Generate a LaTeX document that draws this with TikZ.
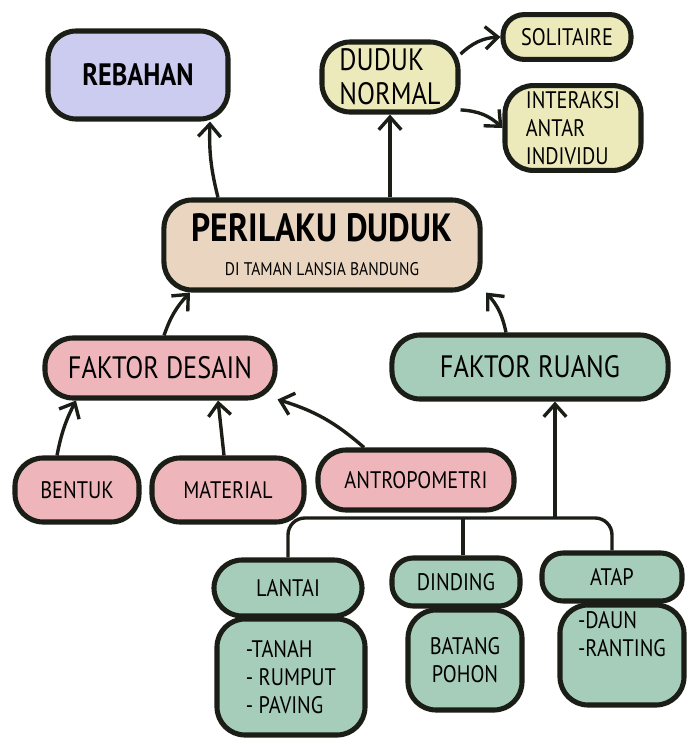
\documentclass[tikz,border=0pt]{standalone}
\usepackage{fontspec}
\setmainfont[FakeStretch=0.85]{PT Sans}
\usepackage{tikz}
\usetikzlibrary{arrows.meta}
\definecolor{skink}{RGB}{26, 30, 22}
\definecolor{skpurple}{RGB}{204, 204, 240}
\definecolor{skyellow}{RGB}{236, 234, 186}
\definecolor{sktan}{RGB}{234, 214, 192}
\definecolor{skpink}{RGB}{238, 182, 186}
\definecolor{skgreen}{RGB}{166, 204, 186}

\begin{document}
\begin{tikzpicture}[x=0.025cm, y=-0.025cm,
        box/.style={rectangle, rounded corners=20pt, draw=skink,
                    line width=3.6pt, align=center, inner sep=4pt},
        flat/.style={rounded corners=15pt},
        big/.style={font=\fontsize{28}{30}\selectfont\bfseries},
        mid/.style={font=\fontsize{22}{24}\selectfont},
        sml/.style={font=\fontsize{17}{20}\selectfont},
        arr/.style={-{Straight Barb[length=9pt,width=16pt,line width=2.4pt]},
                    line width=2.4pt, draw=skink},
      ]
        \useasboundingbox (0,0) rectangle (686,738);

        % top row
        \node[box, mid, fill=skpurple, minimum width=4.5cm, minimum height=2.2cm]
              (rebahan) at (138,75) {\bfseries REBAHAN};
        \node[box, mid, fill=skyellow, align=left, minimum width=3.4cm, minimum height=1.75cm]
              (duduk) at (390,77) {DUDUK\\NORMAL};
        \node[box, flat, sml, fill=skyellow, minimum width=3.2cm, minimum height=1.12cm]
              (solitaire) at (567,37) {SOLITAIRE};
        \node[box, sml, fill=skyellow, align=left, minimum width=3.4cm, minimum height=2.1cm]
              (interaksi) at (573,128) {INTERAKSI\\ANTAR\\INDIVIDU};

        % centre
        \node[box, big, fill=sktan, minimum width=7.9cm, minimum height=2.25cm]
              (perilaku) at (322,245)
              {PERILAKU DUDUK\\[-6pt]{\fontsize{13}{15}\selectfont\mdseries DI TAMAN LANSIA BANDUNG}};

        % faktor
        \node[box, mid, fill=skpink, minimum width=5.75cm, minimum height=1.5cm]
              (desain) at (160,368) {FAKTOR DESAIN};
        \node[box, mid, fill=skgreen, minimum width=6.9cm, minimum height=1.6cm]
              (ruang) at (530,367) {FAKTOR RUANG};

        \node[box, sml, fill=skpink, minimum width=3.1cm, minimum height=1.6cm]
              (bentuk) at (77,490) {BENTUK};
        \node[box, sml, fill=skpink, minimum width=3.8cm, minimum height=1.6cm]
              (material) at (228,490) {MATERIAL};
        \node[box, sml, fill=skpink, minimum width=4.9cm, minimum height=1.5cm]
              (antro) at (416,480) {ANTROPOMETRI};

        \node[box, sml, fill=skgreen, minimum width=3.7cm, minimum height=1.4cm]
              (lantai) at (288,588) {LANTAI};
        \node[box, flat, sml, fill=skgreen, minimum width=3.2cm, minimum height=1.2cm]
              (dinding) at (456,582) {DINDING};
        \node[box, flat, sml, fill=skgreen, minimum width=3.5cm, minimum height=1.2cm]
              (atap) at (612,577) {ATAP};

        \node[box, sml, fill=skgreen, align=left, minimum width=3.7cm, minimum height=2.9cm]
              (tanah) at (291,677) {-TANAH\\- RUMPUT\\- PAVING};
        \node[box, sml, fill=skgreen, minimum width=2.85cm, minimum height=2.5cm]
              (batang) at (465,660) {BATANG\\POHON};
        \node[box, sml, fill=skgreen, align=left, minimum width=3.1cm, minimum height=2.5cm]
              (daun) at (622,655) {-DAUN\\-RANTING\\[10pt]};

        % connectors
        \draw[arr] ([xshift=-2.6cm]perilaku.north) to[bend left=8] ([xshift=1.8cm]rebahan.south);
        \draw[arr] (perilaku.north -| duduk.south) -- (duduk.south);
        \draw[arr] (duduk.18) to[bend left=20] (solitaire.west);
        \draw[arr] (duduk.-25) to[bend left=20] (interaksi.west);
        \draw[arr] ([xshift=0.1cm]desain.north) to[bend left=12] ([xshift=-3.3cm]perilaku.south);
        \draw[arr] ([xshift=-0.6cm]ruang.north) to[bend right=15] ([xshift=4.1cm]perilaku.south);
        \draw[arr] ([xshift=-0.5cm]bentuk.north) to[bend left=8] ([xshift=-2.1cm]desain.south);
        \draw[arr] ([xshift=-0.1cm]material.north) -- ([xshift=1.45cm]desain.south);
        \draw[arr] ([xshift=-1.3cm]antro.north) to[bend right=12] (desain.-15);

        \coordinate (jn) at (555,518);
        \draw[arr] (jn) -- (jn |- ruang.south);
        \draw[line width=2.4pt, draw=skink, rounded corners=12pt]
              (lantai.north) -- (lantai.north |- jn) -- (atap.north |- jn) -- (atap.north);
        \draw[line width=2.4pt, draw=skink] (dinding.north -| 463,0) -- (jn -| 463,0);
      \end{tikzpicture}
\end{document}
